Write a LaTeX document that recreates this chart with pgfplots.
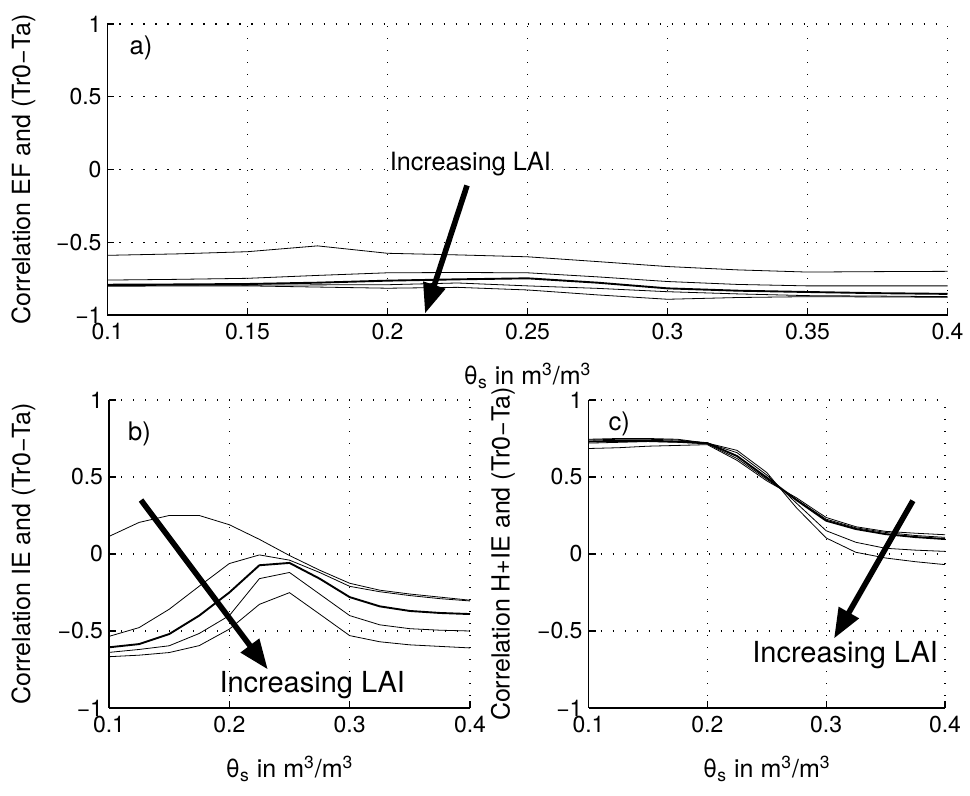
\documentclass[border=0pt]{standalone}
\usepackage{fontspec}
\setmainfont{TeX Gyre Heros}
\usepackage{pgfplots}
\usepackage{pgfplotstable}
\pgfplotsset{compat=1.18}
\usetikzlibrary{arrows.meta}

\pgfplotstableread{
x c1 c2 c3 c4 c5
0.100 -0.590 -0.760 -0.792 -0.797 -0.802
0.125 -0.580 -0.755 -0.790 -0.796 -0.801
0.150 -0.565 -0.748 -0.787 -0.795 -0.800
0.175 -0.525 -0.728 -0.778 -0.793 -0.808
0.200 -0.576 -0.710 -0.764 -0.792 -0.816
0.225 -0.587 -0.708 -0.755 -0.780 -0.810
0.250 -0.600 -0.710 -0.748 -0.800 -0.828
0.275 -0.633 -0.738 -0.778 -0.817 -0.862
0.300 -0.667 -0.770 -0.817 -0.840 -0.892
0.325 -0.690 -0.790 -0.833 -0.855 -0.880
0.350 -0.705 -0.800 -0.842 -0.867 -0.874
0.375 -0.702 -0.800 -0.850 -0.870 -0.876
0.400 -0.700 -0.800 -0.855 -0.874 -0.878
}\tableA

\pgfplotstableread{
x c1 c2 c3 c4 c5
0.100 0.114 -0.535 -0.606 -0.639 -0.667
0.125 0.205 -0.478 -0.585 -0.620 -0.657
0.150 0.250 -0.359 -0.520 -0.596 -0.640
0.175 0.250 -0.209 -0.400 -0.516 -0.595
0.200 0.190 -0.062 -0.250 -0.400 -0.488
0.225 0.095 -0.006 -0.073 -0.160 -0.327
0.250 -0.010 -0.040 -0.058 -0.120 -0.251
0.275 -0.105 -0.120 -0.160 -0.260 -0.390
0.300 -0.190 -0.210 -0.280 -0.400 -0.530
0.325 -0.235 -0.245 -0.340 -0.460 -0.570
0.350 -0.260 -0.270 -0.370 -0.485 -0.590
0.375 -0.280 -0.290 -0.383 -0.495 -0.600
0.400 -0.300 -0.305 -0.390 -0.500 -0.610
}\tableB

\pgfplotstableread{
x c1 c2 c3 c4 c5
0.100 0.685 0.720 0.730 0.740 0.745
0.125 0.690 0.725 0.735 0.745 0.750
0.150 0.700 0.730 0.735 0.745 0.750
0.175 0.705 0.725 0.730 0.740 0.745
0.200 0.710 0.715 0.720 0.720 0.720
0.225 0.608 0.620 0.636 0.658 0.673
0.250 0.475 0.485 0.496 0.513 0.529
0.275 0.365 0.355 0.350 0.330 0.300
0.300 0.237 0.226 0.216 0.151 0.104
0.325 0.177 0.170 0.162 0.076 0.011
0.350 0.147 0.140 0.129 0.037 -0.026
0.375 0.135 0.120 0.110 0.025 -0.050
0.400 0.125 0.108 0.097 0.017 -0.069
}\tableC

\tikzset{
  arr/.style={black, line width=2.8pt, -{Triangle[length=15pt,width=11pt]}},
  anna/.style={font=\fontsize{12.6}{15}\selectfont},
  annb/.style={font=\fontsize{14.5}{17}\selectfont},
  lab/.style={font=\fontsize{12.8}{15}\selectfont},
}
\pgfplotsset{
  panel/.style={
    scale only axis, clip=false,
    axis x line=bottom, axis y line=left,
    axis line style={-, line width=0.7pt},
    every outer x axis line/.append style={-},
    every outer y axis line/.append style={-},
    tick align=inside, major tick length=3.5pt,
    major tick style={black, line width=0.6pt},
    grid=major,
    major grid style={black, line width=0.55pt, dash pattern=on 0.6pt off 5.4pt},
    xmin=0.1, xmax=0.4, ymin=-1, ymax=1,
    ytick={-1,-0.5,0,0.5,1},
    yticklabels={−1,−0.5,0,0.5,1},
    tick label style={font=\fontsize{11.5}{13}\selectfont, inner sep=0.8pt},
    yticklabel style={xshift=-2pt},
    xticklabel style={yshift=-3pt},
    label style={font=\fontsize{12.5}{14}\selectfont},
    xlabel style={at={(axis description cs:0.5,0)}, anchor=center, yshift=-30.5pt},
    cycle list={{black, no markers, line width=0.95pt}},
  },
}

\begin{document}
\begin{tikzpicture}
\path[use as bounding box] (0,0) rectangle (485pt,398pt);

% panel a
\begin{axis}[panel, at={(53.75pt,240.5pt)}, anchor=south west,
  width=420pt, height=145.5pt,
  xtick={0.1,0.15,0.2,0.25,0.3,0.35,0.4},
  xticklabels={0.1,0.15,0.2,0.25,0.3,0.35,0.4},
  xlabel={θ\textsubscript{s} in m\textsuperscript{3}/m\textsuperscript{3}},
  ylabel={Correlation EF and (Tr0−Ta)},
  ylabel style={at={(axis description cs:-0.1,0.5)}, anchor=center},
]
\addplot table[x=x,y=c1] {\tableA};
\addplot table[x=x,y=c2] {\tableA};
\addplot table[x=x,y=c3] {\tableA};
\addplot table[x=x,y=c4] {\tableA};
\addplot table[x=x,y=c5] {\tableA};
\addplot[arr] coordinates {(0.2284,-0.11) (0.2134,-0.99)};
\node[anna] at (axis cs:0.2296,0.035) {Increasing LAI};
\node[lab, anchor=base west] at (axis cs:0.1054,0.788) {a)};
\end{axis}

% panel b
\begin{axis}[panel, at={(54.5pt,44pt)}, anchor=south west,
  width=180.5pt, height=154pt,
  xtick={0.1,0.2,0.3,0.4},
  xticklabels={0.1,0.2,0.3,0.4},
  xlabel={θ\textsubscript{s} in m\textsuperscript{3}/m\textsuperscript{3}},
  ylabel={Correlation IE and (Tr0−Ta)},
  ylabel style={at={(axis description cs:-0.237,0.5)}, anchor=center},
]
\addplot table[x=x,y=c1] {\tableB};
\addplot table[x=x,y=c2] {\tableB};
\addplot table[x=x,y=c3] {\tableB};
\addplot table[x=x,y=c4] {\tableB};
\addplot table[x=x,y=c5] {\tableB};
\addplot[arr] coordinates {(0.1266,0.35) (0.232,-0.75)};
\node[annb, anchor=west] at (axis cs:0.186,-0.85) {Increasing LAI};
\node[lab, anchor=base west] at (axis cs:0.110,0.74) {b)};
\end{axis}

% panel c
\begin{axis}[panel, at={(294.25pt,44pt)}, anchor=south west,
  width=178.25pt, height=154pt,
  xtick={0.1,0.2,0.3,0.4},
  xticklabels={0.1,0.2,0.3,0.4},
  xlabel={θ\textsubscript{s} in m\textsuperscript{3}/m\textsuperscript{3}},
  ylabel={Correlation H+IE and (Tr0−Ta)},
  ylabel style={at={(axis description cs:-0.24,0.5)}, anchor=center},
]
\addplot table[x=x,y=c1] {\tableC};
\addplot table[x=x,y=c2] {\tableC};
\addplot table[x=x,y=c3] {\tableC};
\addplot table[x=x,y=c4] {\tableC};
\addplot table[x=x,y=c5] {\tableC};
\addplot[arr] coordinates {(0.373,0.346) (0.3066,-0.549)};
\node[annb] at (axis cs:0.316,-0.655) {Increasing LAI};
\node[lab, anchor=base west] at (axis cs:0.111,0.80) {c)};
\end{axis}
\end{tikzpicture}
\end{document}
